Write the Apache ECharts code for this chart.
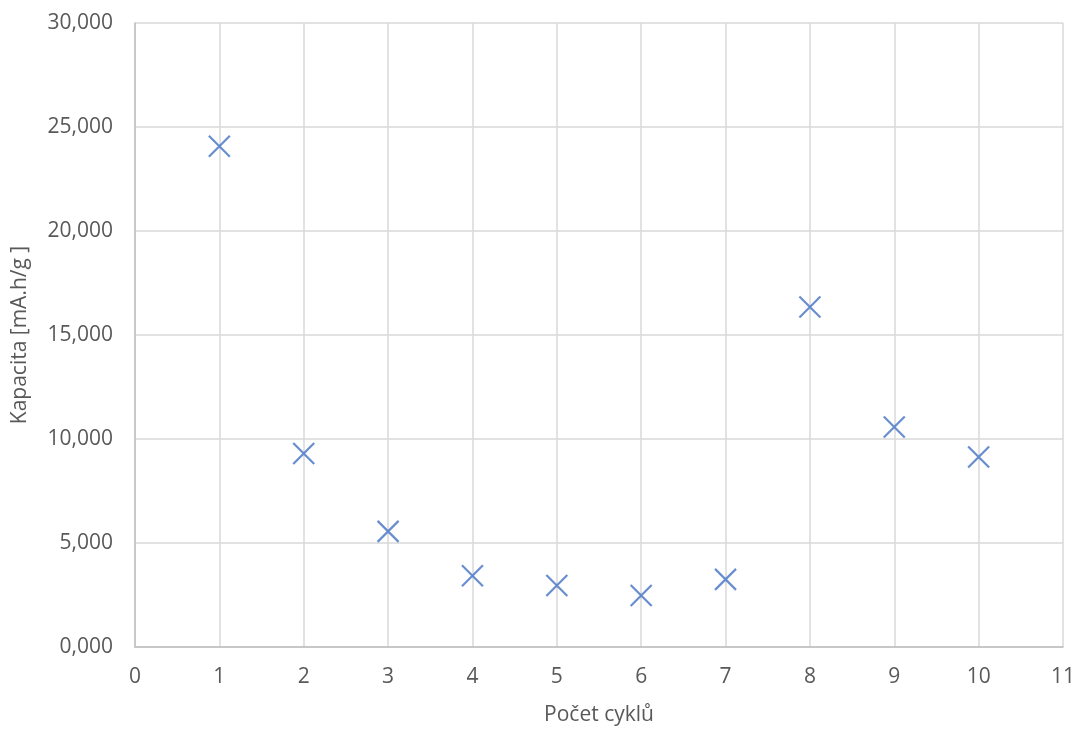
<!DOCTYPE html>
<html>
<head>
<meta charset="utf-8">
<script src="https://cdn.jsdelivr.net/npm/echarts@6/dist/echarts.min.js"></script>
<style>
  html, body { margin: 0; padding: 0; background: #fff; }
  #chart { width: 1077px; height: 729px; }
</style>
</head>
<body>
<div id="chart"></div>
<script>
// cycle numbers and measured capacity
var cycles = [1, 2, 3, 4, 5, 6, 7, 8, 9, 10];
var capacity = [24.07, 9.30, 5.56, 3.43, 2.96, 2.48, 3.25, 16.35, 10.58, 9.13];

var xName = 'Počet cyklů';
var yName = 'Kapacita [mA.h/g ]';

var points = cycles.map(function (c, i) { return [c, capacity[i]]; });

var txt = '#595959';
var font = 'Open Sans';

var myChart = echarts.init(document.getElementById('chart'));
myChart.setOption({
    backgroundColor: '#fff',
    animation: false,
    grid: { left: 135, right: 14, top: 23, bottom: 82, outerBoundsMode: 'none' },
    xAxis: {
        type: 'value',
        min: 0,
        max: 11,
        interval: 1,
        name: xName,
        nameLocation: 'middle',
        nameGap: 58,
        nameTextStyle: { color: txt, fontSize: 21, fontFamily: font },
        axisLine: { show: true, lineStyle: { color: '#bfbfbf', width: 1.5 } },
        axisTick: { show: false },
        axisLabel: { color: txt, fontSize: 21, fontFamily: font, margin: 20 },
        splitLine: { show: true, lineStyle: { color: '#d9d9d9', width: 1.5 } }
    },
    yAxis: {
        type: 'value',
        min: 0,
        max: 30,
        interval: 5,
        name: yName,
        nameLocation: 'middle',
        nameGap: 104,
        nameTextStyle: { color: txt, fontSize: 21, fontFamily: font },
        axisLine: { show: true, lineStyle: { color: '#bfbfbf', width: 1.5 } },
        axisTick: { show: false },
        axisLabel: {
            color: txt, fontSize: 21, fontFamily: font, margin: 22,
            formatter: function (v) { return v.toFixed(3).replace('.', ','); }
        },
        splitLine: { show: true, lineStyle: { color: '#d9d9d9', width: 1.5 } }
    },
    series: [{
        type: 'scatter',
        data: points,
        symbol: 'path://M0,0L10,10M10,0L0,10',
        symbolSize: 21,
        itemStyle: { color: 'rgba(0,0,0,0)', borderColor: '#4472C4', borderWidth: 2.2 }
    }]
});
</script>
</body>
</html>
